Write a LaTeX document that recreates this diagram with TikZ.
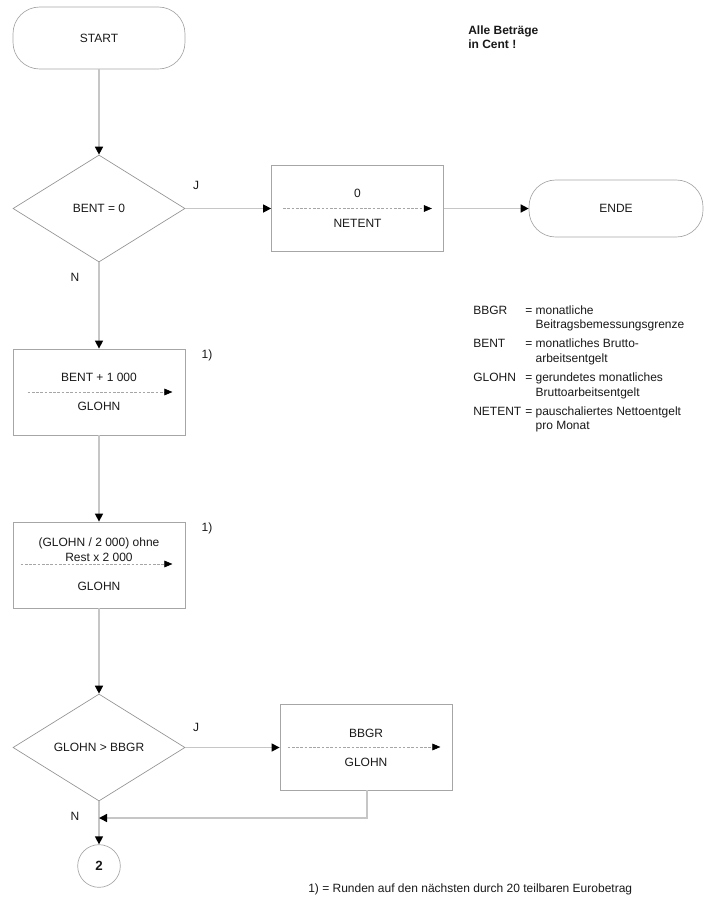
\documentclass[tikz,border=0pt]{standalone}
\usepackage{fontspec}
\setmainfont{Liberation Sans}
\usetikzlibrary{shapes.geometric,arrows.meta}

\tikzset{
  flow/.style={draw=gray!45, line width=1.1pt, -{Triangle[length=6pt,width=6pt,color=black]}},
  flowline/.style={draw=gray!45, line width=1.1pt},
  transfer/.style={draw=gray!70, line width=0.45pt, dash pattern=on 2pt off 1.2pt, -{Triangle[length=6pt,width=5pt,color=black]}},
  terminal/.style={draw=gray!70, line width=0.5pt, rectangle, rounded corners=20pt, minimum width=129pt, minimum height=46.5pt, text=black!90},
  decision/.style={draw=gray!85, line width=0.5pt, diamond, minimum width=129pt, minimum height=80.25pt, inner sep=0pt, text=black!90},
  process/.style={draw=gray!70, line width=0.6pt, rectangle, minimum width=129pt, minimum height=64.5pt},
  pageref/.style={draw=gray!70, line width=0.5pt, circle, minimum size=32pt, font=\bfseries, text=black!90},
  txt/.style={inner sep=0pt, text=black!90},
}

\begin{document}
\begin{tikzpicture}[x=0.75pt, y=-0.75pt, font=\fontsize{9}{10.9}\selectfont]
    \useasboundingbox (0,0) rectangle (719,918);

    % flow chart
    \node[terminal] (start) at (99,38) {START};
    \node[decision] (bent) at (99,208.5) {BENT = 0};
    \node[process] (netent) at (357.5,208.5) {};
    \node[terminal, minimum width=130.5pt, minimum height=42.75pt] (ende) at (616,208.5) {ENDE};
    \node[process] (glohn1) at (99,392) {};
    \node[process] (glohn2) at (99,565) {};
    \node[decision] (bbgr) at (99,747.5) {GLOHN > BBGR};
    \node[process] (glohn3) at (366,747) {};
    \node[pageref] (next) at (99,866) {2};
    \coordinate (merge) at (99,818);

    % box contents
    \node[txt] (netentA) at (357.5,193) {0};
    \node[txt] (netentB) at (357.5,223) {NETENT};
    \draw[transfer] ([xshift=9pt]netent.west) -- ([xshift=-9pt]netent.east);

    \node[txt] (glohn1A) at (99,377) {BENT + 1 000};
    \node[txt] (glohn1B) at (99,406) {GLOHN};
    \draw[transfer] ([xshift=11.25pt]glohn1.west) -- ([xshift=-9.75pt]glohn1.east);

    \node[txt, align=center] (glohn2A) at (99,549.5) {(GLOHN / 2 000) ohne\\Rest x 2 000};
    \node[txt] (glohn2B) at (99,586) {GLOHN};
    \draw[transfer] ([xshift=6pt,yshift=0.75pt]glohn2.west) -- ([xshift=-9.75pt,yshift=0.75pt]glohn2.east);

    \node[txt] (glohn3A) at (366,733) {BBGR};
    \node[txt] (glohn3B) at (366,762) {GLOHN};
    \draw[transfer] ([xshift=6pt]glohn3.west) -- ([xshift=-9pt]glohn3.east);

    % connectors
    \draw[flow] (start) -- (bent);
    \draw[flow] (bent) -- (netent);
    \draw[flow] (netent) -- (ende);
    \draw[flow] (bent) -- (glohn1);
    \draw[flow] (glohn1) -- (glohn2);
    \draw[flow] (glohn2) -- (bbgr);
    \draw[flow] (bbgr.east) -- (bbgr.east -| glohn3.west);
    \draw[flow] (bbgr) -- (next);
    \draw[flow] ([xshift=0.75pt]glohn3.south) |- (merge);

    \node[txt] (j1) at (196,185) {J};
    \node[txt] (n1) at (75,277) {N};
    \node[txt] (j2) at (196,727) {J};
    \node[txt] (n2) at (75,816) {N};
    \node[txt] (fn1) at (207,355) {1)};
    \node[txt] (fn2) at (207,528) {1)};

    % notes
    \node[txt, anchor=base west, font=\fontsize{9}{10.5}\selectfont\bfseries] (cent) at (468,34.3)
        {\begin{tabular}[t]{@{}l@{}}Alle Beträge\\in Cent !\end{tabular}};
    \node[txt, anchor=base west] (legend) at (473,314.3)
        {\begin{tabular}[t]{@{}l@{\hspace{3pt}}l@{\hspace{2.5pt}}l@{}}
          BBGR & = & monatliche\\
               &   & Beitragsbemessungsgrenze\\[3.4pt]
          BENT & = & monatliches Brutto-\\
               &   & arbeitsentgelt\\[3.4pt]
          GLOHN & = & gerundetes monatliches\\
                &   & Bruttoarbeitsentgelt\\[3.4pt]
          NETENT & = & pauschaliertes Nettoentgelt\\
                 &   & pro Monat
        \end{tabular}};
    \node[txt, anchor=base west] (footnote) at (308,892.3)
        {1) = Runden auf den nächsten durch 20 teilbaren Eurobetrag};
\end{tikzpicture}
\end{document}
